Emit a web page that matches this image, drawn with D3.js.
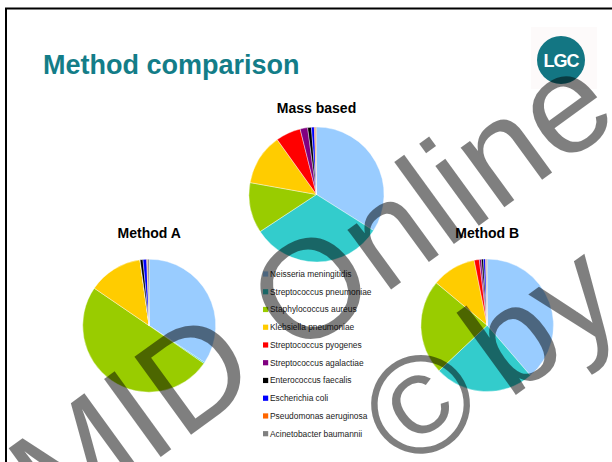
<!DOCTYPE html>
<html>
<head>
<meta charset="utf-8">
<script src="https://cdn.jsdelivr.net/npm/d3@7"></script>
<style>
  html, body { margin: 0; padding: 0; background: #fff; }
  svg { display: block; }
</style>
</head>
<body>
<svg id="chart" width="612" height="462"></svg>
<script>
// Organisms, in legend / slice order
const species = [
  "Neisseria meningitidis",
  "Streptococcus pneumoniae",
  "Staphylococcus aureus",
  "Klebsiella pneumoniae",
  "Streptococcus pyogenes",
  "Streptococcus agalactiae",
  "Enterococcus faecalis",
  "Escherichia coli",
  "Pseudomonas aeruginosa",
  "Acinetobacter baumannii"
];
const speciesColors = [
  "#99CCFF", "#33CCCC", "#99CC00", "#FFCC00", "#FF0000",
  "#800080", "#000000", "#0000FF", "#FF6600", "#808080"
];

// Share of each organism (%) per method
const massBased = [34.0, 31.8, 12.1, 12.3, 6.0, 1.8, 0.9, 0.7, 0.3, 0.2];
const methodA   = [34.4, 0.3, 50.0, 13.3, 0.0, 0.0, 0.7, 0.9, 0.2, 0.4];
const methodB   = [38.7, 24.3, 23.1, 10.8, 1.25, 0.5, 0.5, 0.5, 0.2, 0.2];

const pieTitles = ["Mass based", "Method A", "Method B"];
const pieSeries = [massBased, methodA, methodB];

const svg = d3.select("#chart");

// slide frame (top and left edges visible)
svg.append("rect")
  .attr("x", 6).attr("y", 8.5)
  .attr("width", 700).attr("height", 700)
  .attr("fill", "#fff")
  .attr("stroke", "#000").attr("stroke-width", 2);

// heading
svg.append("text")
  .attr("x", 43).attr("y", 74)
  .attr("font-family", "Liberation Sans, Arial, sans-serif")
  .attr("font-weight", "bold")
  .attr("font-size", 27)
  .attr("fill", "#137D88")
  .text("Method comparison");

// logo
const logo = svg.append("g").attr("transform", "translate(561,60)");
logo.append("rect").attr("x", -30).attr("y", -33).attr("width", 66).attr("height", 62)
  .attr("fill", "#fdfafa");
logo.append("circle").attr("r", 24).attr("fill", "#137683");
logo.append("text")
  .attr("text-anchor", "middle").attr("y", 6.5)
  .attr("font-family", "Liberation Sans Narrow, Liberation Sans, Arial, sans-serif")
  .attr("font-weight", "bold").attr("font-size", 18)
  .attr("letter-spacing", -1)
  .attr("fill", "#fff")
  .text("LGC");

// pies
const layout = [
  { cx: 316.5, cy: 194.5, r: 67.5, ty: 112.5 },
  { cx: 149.2, cy: 325.7, r: 66.5, ty: 237.5 },
  { cx: 487.2, cy: 325.3, r: 66.3, ty: 237.5 }
];

const color = d3.scaleOrdinal().domain(species).range(speciesColors);
const pie = d3.pie().sort(null).value(d => d.v);

pieSeries.forEach((vals, i) => {
  const L = layout[i];
  const g = svg.append("g").attr("transform", `translate(${L.cx},${L.cy})`);
  const arc = d3.arc().innerRadius(0).outerRadius(L.r);
  const data = species.map((s, k) => ({ s, v: vals[k] }));
  g.selectAll("path")
    .data(pie(data))
    .join("path")
    .attr("d", arc)
    .attr("fill", d => color(d.data.s))
    .attr("stroke", "#fff")
    .attr("stroke-width", 0.4);
  svg.append("text")
    .attr("x", L.cx).attr("y", L.ty)
    .attr("text-anchor", "middle")
    .attr("font-family", "Liberation Sans, Arial, sans-serif")
    .attr("font-weight", "bold").attr("font-size", 14)
    .attr("fill", "#000")
    .text(pieTitles[i]);
});

// legend
const legendY = d3.scalePoint().domain(species).range([274, 433.7]);
const lg = svg.append("g");
const item = lg.selectAll("g").data(species).join("g")
  .attr("transform", d => `translate(263,${legendY(d)})`);
item.append("rect")
  .attr("x", 0).attr("y", -2.6).attr("width", 5.2).attr("height", 5.2)
  .attr("fill", d => color(d));
item.append("text")
  .attr("x", 7).attr("y", 3)
  .attr("font-family", "Liberation Sans, Arial, sans-serif")
  .attr("font-size", 8.4)
  .attr("fill", "#1a1a1a")
  .text(d => d);

// watermark
const wm = svg.append("g")
  .attr("transform", "translate(56,533) rotate(-36)")
  .attr("font-family", "Liberation Sans, Arial, sans-serif")
  .attr("font-size", 140)
  .attr("fill", "rgba(0,0,0,0.5)");
wm.append("text").attr("x", 0).attr("y", 0).text("MID Online");
const wm2 = wm.append("text").attr("x", 319).attr("y", 158.5);
wm2.append("tspan").text("\u00A9");
wm2.append("tspan").attr("dx", 22).text("by");
</script>
</body>
</html>
